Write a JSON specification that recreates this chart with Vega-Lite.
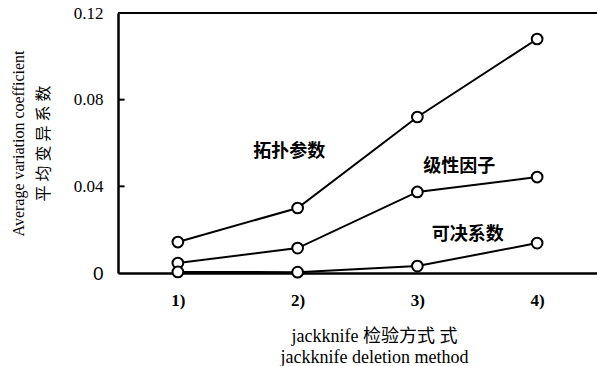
{
  "$schema": "https://vega.github.io/schema/vega-lite/v6.json",
  "autosize": "none",
  "width": 479,
  "height": 260,
  "padding": {"left": 118, "top": 13, "right": 0, "bottom": 93},
  "background": "white",
  "config": {
    "view": {"stroke": null},
    "axis": {"grid": false, "domainColor": "black", "tickColor": "black", "labelColor": "black", "titleColor": "black"}
  },
  "datasets": {
    "series": [
      {"method": 1, "value": 0.0143, "param": "拓扑参数"},
      {"method": 2, "value": 0.0300, "param": "拓扑参数"},
      {"method": 3, "value": 0.0720, "param": "拓扑参数"},
      {"method": 4, "value": 0.1080, "param": "拓扑参数"},
      {"method": 1, "value": 0.0046, "param": "级性因子"},
      {"method": 2, "value": 0.0115, "param": "级性因子"},
      {"method": 3, "value": 0.0374, "param": "级性因子"},
      {"method": 4, "value": 0.0443, "param": "级性因子"},
      {"method": 1, "value": 0.0005, "param": "可决系数"},
      {"method": 2, "value": 0.0004, "param": "可决系数"},
      {"method": 3, "value": 0.0032, "param": "可决系数"},
      {"method": 4, "value": 0.0138, "param": "可决系数"}
    ],
    "labels": [
      {"method": 1.93, "value": 0.0558, "param": "拓扑参数"},
      {"method": 3.35, "value": 0.0489, "param": "级性因子"},
      {"method": 3.42, "value": 0.0175, "param": "可决系数"}
    ]
  },
  "layer": [
    {
      "data": {"name": "series"},
      "mark": {"type": "line", "color": "black", "strokeWidth": 2},
      "encoding": {
        "x": {
          "field": "method", "type": "quantitative",
          "scale": {"domain": [0.5, 4.5], "nice": false, "zero": false},
          "axis": {
            "values": [1, 2, 3, 4],
            "labelExpr": "datum.value + ')'",
            "ticks": false,
            "domainWidth": 2.5,
            "labelFont": "Liberation Serif",
            "labelFontSize": 17,
            "labelFontWeight": "bold",
            "labelPadding": 19,
            "labelDx": -3,
            "title": ["jackknife 检验方式 式", "jackknife deletion method"],
            "titleFont": "Liberation Serif, Noto Sans CJK SC",
            "titleFontSize": 18,
            "titleFontWeight": "normal",
            "titleLineHeight": 21,
            "titleX": 256,
            "titleY": 54,
            "titleAlign": "center",
            "titleBaseline": "top"
          }
        },
        "y": {
          "field": "value", "type": "quantitative",
          "scale": {"domain": [0, 0.12], "nice": false},
          "axis": {
            "values": [0, 0.04, 0.08, 0.12],
            "labelExpr": "datum.value == 0 ? '0' : format(datum.value, '.2f')",
            "ticks": false,
            "domainWidth": 2.5,
            "labelFont": {"condition": {"test": "datum.value == 0", "value": "Liberation Sans"}, "value": "Liberation Serif"},
            "labelFontSize": {"condition": {"test": "datum.value == 0", "value": 19}, "value": 17},
            "labelPadding": 15,
            "title": ["Average variation coefficient", "平 均 变 异 系 数"],
            "titleFont": "Liberation Serif, Noto Sans CJK SC",
            "titleFontSize": 16,
            "titleFontWeight": "normal",
            "titleLineHeight": 25,
            "titlePadding": 22
          }
        },
        "detail": {"field": "param"}
      }
    },
    {
      "data": {"values": [{"tick": 0.04}, {"tick": 0.08}]},
      "mark": {"type": "rule", "color": "black", "strokeWidth": 2},
      "encoding": {
        "y": {"field": "tick", "type": "quantitative"},
        "x": {"datum": 0.5},
        "x2": {"datum": 0.555}
      }
    },
    {
      "data": {"name": "series"},
      "mark": {"type": "point", "shape": "circle", "filled": true, "fill": "white", "stroke": "black", "strokeWidth": 2, "size": 115, "opacity": 1},
      "encoding": {
        "x": {"field": "method", "type": "quantitative"},
        "y": {"field": "value", "type": "quantitative"}
      }
    },
    {
      "data": {"values": [{"top": 0.12}]},
      "mark": {"type": "rule", "color": "black", "strokeWidth": 2},
      "encoding": {"y": {"field": "top", "type": "quantitative"}}
    },
    {
      "data": {"name": "labels"},
      "mark": {"type": "text", "font": "Noto Sans CJK SC", "fontSize": 18, "fontWeight": "bold", "color": "black", "align": "center", "baseline": "middle"},
      "encoding": {
        "x": {"field": "method", "type": "quantitative"},
        "y": {"field": "value", "type": "quantitative"},
        "text": {"field": "param"}
      }
    }
  ]
}
